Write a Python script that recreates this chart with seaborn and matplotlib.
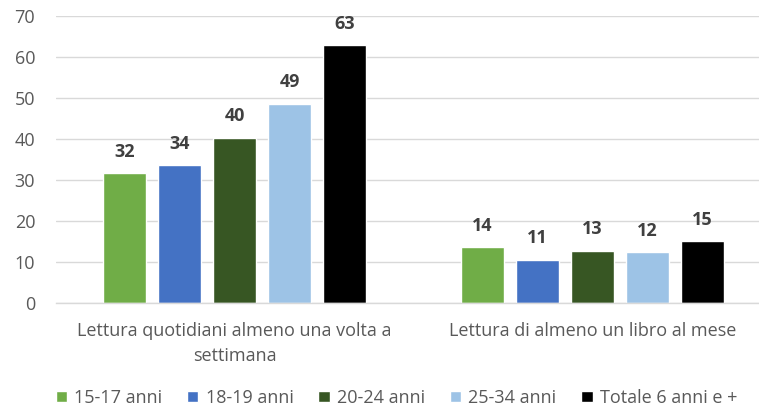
import pandas as pd
import matplotlib.pyplot as plt
import seaborn as sns
from matplotlib.patches import Patch

# dati
categorie = ["Lettura quotidiani almeno una volta a\nsettimana",
             "Lettura di almeno un libro al mese"]
fasce = ["15-17 anni", "18-19 anni", "20-24 anni", "25-34 anni", "Totale 6 anni e +"]
quotidiani = [31.6, 33.6, 40.3, 48.6, 62.9]
libri = [13.6, 10.6, 12.8, 12.4, 15.1]
colori = ["#70AD47", "#4472C4", "#375623", "#9DC3E6", "#000000"]

df = pd.DataFrame({
    "categoria": [categorie[0]] * 5 + [categorie[1]] * 5,
    "fascia": fasce * 2,
    "valore": quotidiani + libri,
})

sns.set_theme(style="white")
plt.rcParams["font.family"] = ["Open Sans", "DejaVu Sans"]
grigio = "#595959"

fig = plt.figure(figsize=(7.59, 4.07), dpi=100)
ax = fig.add_axes([56 / 759, 1 - 303 / 407, 715 / 759, 287 / 407])

sns.barplot(data=df, x="categoria", y="valore", hue="fascia", palette=colori,
            width=0.77, gap=0.22, saturation=1, errorbar=None, legend=False, ax=ax)

for cont in ax.containers:
    ax.bar_label(cont, labels=[f"{v:.0f}" for v in cont.datavalues], padding=9,
                 fontsize=13, fontweight="bold", color="#404040")

ax.set_ylim(0, 70)
ax.set_yticks(range(0, 71, 10))
ax.set_xlim(-0.5, 1.5)
ax.yaxis.grid(True, color="#D9D9D9", lw=1)
ax.set_axisbelow(True)
for s in ["top", "right", "left"]:
    ax.spines[s].set_visible(False)
ax.spines["bottom"].set_color("#D9D9D9")
ax.spines["bottom"].set_linewidth(1)
ax.set_xlabel("")
ax.set_ylabel("")
ax.tick_params(axis="y", length=0, pad=15, labelsize=13, labelcolor=grigio)
ax.tick_params(axis="x", length=0, pad=14, labelsize=13, labelcolor=grigio)
for t in ax.get_xticklabels():
    t.set_linespacing(1.45)

handles = [Patch(facecolor=c, label=f) for c, f in zip(colori, fasce)]
fig.legend(handles=handles, loc="center", bbox_to_anchor=(396.5 / 759, 1 - 398 / 407),
           ncol=5, frameon=False, handlelength=0.62, handleheight=0.62,
           handletextpad=0.4, columnspacing=1.38, fontsize=13, labelcolor=grigio)

fig.savefig("out.png", dpi=100)
